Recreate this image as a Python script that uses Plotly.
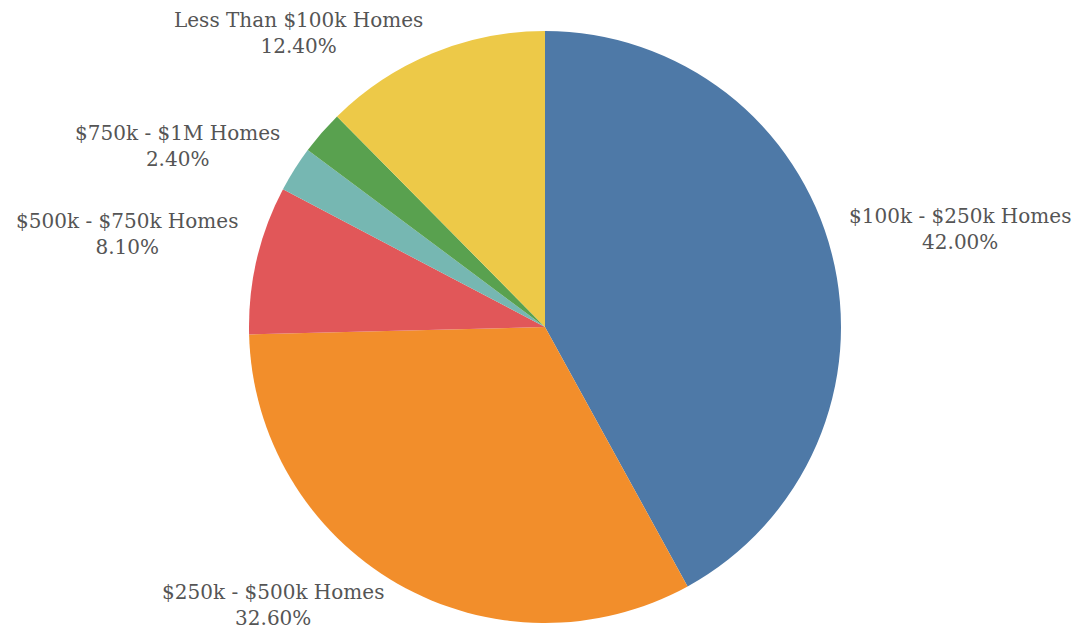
import plotly.graph_objects as go

# Share of homes by price band, clockwise from 12 o'clock
categories = [
    "$100k - $250k Homes",
    "$250k - $500k Homes",
    "$500k - $750k Homes",
    "Over $1M Homes",
    "$750k - $1M Homes",
    "Less Than $100k Homes",
]
shares = [42.0, 32.6, 8.1, 2.5, 2.4, 12.4]
colors = ["#4e79a7", "#f28e2b", "#e15759", "#76b7b2", "#59a14f", "#edc948"]

# Which slices carry a label
labelled = [True, True, True, False, True, True]

W, H = 1086, 632

# Label anchor points in pixels (centre of the two-line block)
label_pos = {
    "$100k - $250k Homes": (960, 229),
    "$250k - $500k Homes": (273, 605),
    "$500k - $750k Homes": (127, 234),
    "$750k - $1M Homes": (177, 146),
    "Less Than $100k Homes": (298, 33),
}

# Pie geometry in pixels
cx, cy, r = 545, 327, 296

fig = go.Figure(
    go.Pie(
        labels=categories,
        values=shares,
        marker=dict(colors=colors, line=dict(width=0)),
        sort=False,
        direction="clockwise",
        rotation=0,
        textinfo="none",
        hoverinfo="label+percent",
        domain=dict(
            x=[(cx - r) / W, (cx + r) / W],
            y=[(H - cy - r) / H, (H - cy + r) / H],
        ),
        showlegend=False,
    )
)

annotations = []
for name, val, show in zip(categories, shares, labelled):
    if not show:
        continue
    px, py = label_pos[name]
    annotations.append(
        dict(
            x=px / W,
            y=1 - py / H,
            xref="paper",
            yref="paper",
            text=f"{name}<br>{val:.2f}%",
            showarrow=False,
            xanchor="center",
            yanchor="middle",
            align="center",
            font=dict(family="DejaVu Serif", size=20, color="#555555"),
        )
    )

fig.update_layout(
    width=W,
    height=H,
    margin=dict(l=0, r=0, t=0, b=0),
    paper_bgcolor="white",
    plot_bgcolor="white",
    annotations=annotations,
)

fig.write_html("out.html")
